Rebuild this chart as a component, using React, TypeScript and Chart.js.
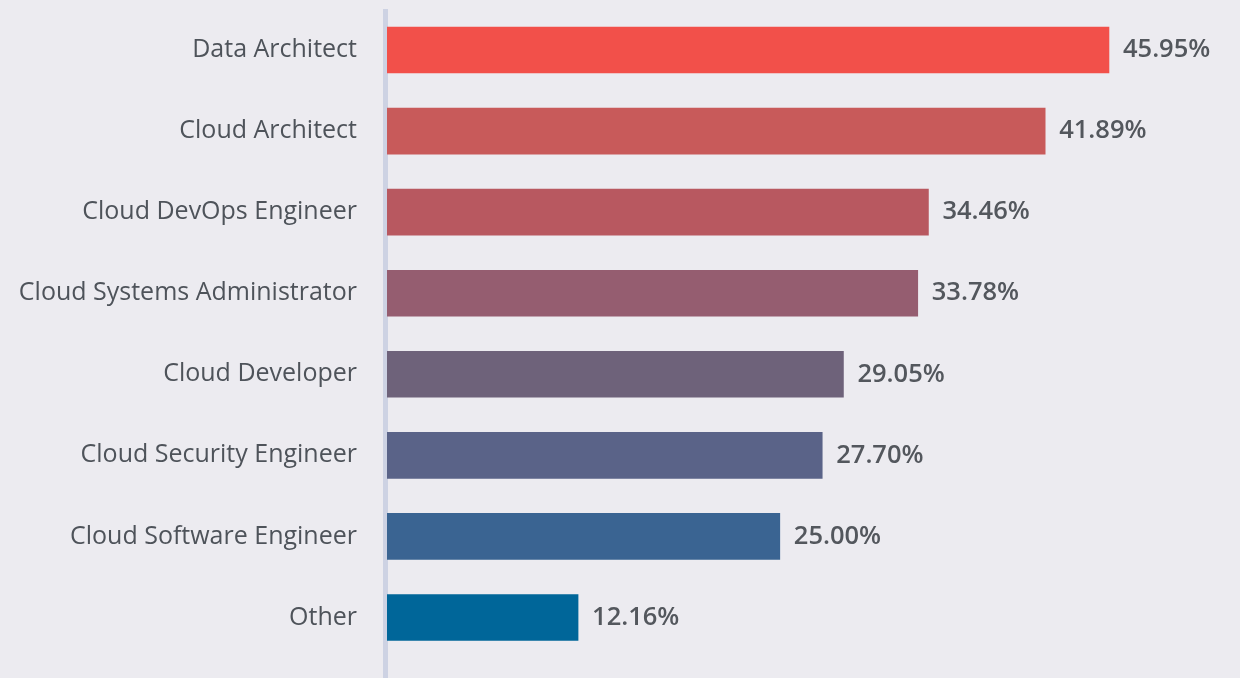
import React, { useEffect, useRef } from "react";
import { Chart, registerables } from "chart.js";

Chart.register(...registerables);

const categories = [
  "Data Architect",
  "Cloud Architect",
  "Cloud DevOps Engineer",
  "Cloud Systems Administrator",
  "Cloud Developer",
  "Cloud Security Engineer",
  "Cloud Software Engineer",
  "Other",
];
const values = [45.95, 41.89, 34.46, 33.78, 29.05, 27.7, 25.0, 12.16];
const barColors = [
  "#F2504A",
  "#C85A5A",
  "#B85860",
  "#955D70",
  "#6E627A",
  "#5A6388",
  "#3A6492",
  "#006699",
];

const BG = "#ECEBF0";

export default function App() {
  const ref = useRef<HTMLCanvasElement | null>(null);
  useEffect(() => {
    document.body.style.margin = "0";
    document.body.style.background = BG;
    document.body.style.overflow = "hidden";
    const axisLine = {
      id: "axisLine",
      beforeDatasetsDraw(chart: any) {
        const ctx = chart.ctx;
        const left = chart.chartArea.left;
        ctx.save();
        ctx.fillStyle = "#CDD2E3";
        ctx.fillRect(left - 4, 9, 5, chart.height - 9);
        ctx.restore();
      },
    };
    const valueLabels = {
      id: "valueLabels",
      afterDatasetsDraw(chart: any) {
        const ctx = chart.ctx;
        const meta = chart.getDatasetMeta(0);
        ctx.save();
        ctx.font = "600 25.5px 'Open Sans'";
        ctx.fillStyle = "#53575D";
        ctx.textAlign = "left";
        ctx.textBaseline = "middle";
        meta.data.forEach((bar: any, i: number) => {
          ctx.fillText(values[i].toFixed(2) + "%", bar.x + 14, bar.y);
        });
        ctx.restore();
      },
    };
    const chart = new Chart(ref.current!, {
      type: "bar",
      data: {
        labels: categories,
        datasets: [
          {
            data: values,
            backgroundColor: barColors,
            borderWidth: 0,
            barThickness: 46,
          },
        ],
      },
      options: {
        indexAxis: "y",
        animation: false,
        responsive: false,
        maintainAspectRatio: false,
        layout: { padding: { top: 9.5, bottom: 20, left: 0, right: 67.4 } },
        plugins: { legend: { display: false }, tooltip: { enabled: false } },
        scales: {
          x: {
            display: false,
            min: 0,
            max: 50,
          },
          y: {
            grid: { display: false, drawTicks: false },
            border: { display: false },
            afterFit(scale: any) {
              scale.width = 387;
              scale.paddingTop = 0;
              scale.paddingBottom = 0;
            },
            ticks: {
              padding: 30,
              color: "#4E535A",
              font: { family: "'Open Sans'", size: 25 },
            },
          },
        },
      },
      plugins: [axisLine, valueLabels],
    });
    return () => chart.destroy();
  }, []);
  return (
    <div
      style={{
        position: "fixed",
        left: 0,
        top: 0,
        width: 1240,
        height: 678,
        background: BG,
      }}
    >
      <canvas ref={ref} width={1240} height={678} style={{ width: 1240, height: 678, display: "block" }} />
    </div>
  );
}
